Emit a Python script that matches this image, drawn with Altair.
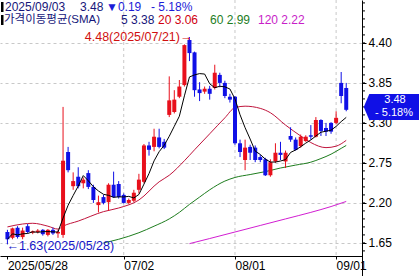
import altair as alt
import pandas as pd

# ---- candle data (index 0 = 2025/05/28 ... 67 = 2025/09/03) ----
opens = [1.80,1.72,1.86,1.73,1.88,1.79,1.80,1.83,1.76,1.83,1.78,1.76,2.90,2.43,2.56,2.47,2.61,2.42,2.17,2.28,
         2.21,2.45,2.46,2.31,2.20,2.23,2.38,2.49,2.99,2.97,3.10,3.04,3.41,3.45,3.66,3.82,4.44,4.27,3.76,3.73,
         3.77,3.78,3.96,3.85,3.66,3.66,3.02,2.79,2.97,2.96,2.83,2.80,2.58,2.77,2.89,2.77,3.12,3.07,2.98,3.05,
         3.13,3.11,3.34,3.23,3.30,3.30,3.85,3.78]
highs = [1.83,1.86,1.88,1.86,1.91,1.82,1.84,1.84,1.84,1.86,1.83,3.52,2.97,2.62,2.69,2.55,2.65,2.45,2.30,2.31,
         2.47,2.63,2.50,2.33,2.26,2.38,2.60,3.01,3.04,3.22,3.22,3.08,3.94,3.75,3.89,4.38,4.48,4.28,3.86,3.80,
         3.81,4.10,3.99,3.88,3.70,3.67,3.07,3.07,3.00,2.99,2.86,2.82,2.80,3.02,3.04,2.92,3.24,3.10,3.14,3.13,
         3.27,3.38,3.35,3.30,3.31,3.46,4.00,3.85]
lows = [1.63,1.70,1.71,1.70,1.78,1.77,1.78,1.75,1.74,1.76,1.72,1.72,2.62,2.38,2.40,2.40,2.39,2.20,2.07,2.18,
        2.09,2.27,2.26,2.19,2.18,2.21,2.33,2.47,2.85,2.91,2.95,2.94,3.38,3.43,3.64,3.80,4.15,3.66,3.60,3.70,
        3.62,3.76,3.79,3.64,3.58,3.00,2.83,2.65,2.79,2.76,2.76,2.57,2.56,2.75,2.79,2.68,3.04,2.92,2.96,3.04,
        3.07,3.10,3.12,3.12,3.15,3.28,3.57,3.46]
closes = [1.70,1.85,1.73,1.82,1.80,1.81,1.82,1.77,1.83,1.78,1.80,2.78,2.65,2.50,2.43,2.52,2.42,2.24,2.21,2.20,
          2.45,2.28,2.28,2.20,2.24,2.34,2.52,2.99,2.93,3.11,2.97,2.96,3.61,3.62,3.80,4.37,4.26,3.75,3.71,3.77,
          3.70,3.99,3.85,3.67,3.62,3.02,2.90,2.96,2.89,2.79,2.79,2.58,2.76,2.89,2.86,2.89,3.07,2.93,3.11,3.11,
          3.11,3.34,3.19,3.18,3.18,3.37,3.67,3.48]

# ---- moving averages ----
ma20_idx = [0,3,5,8,10,11,14,19,22,26,30,32,35,37,40,43,45,47,50,52,55,58,60,63,65,67]
ma20_val = [1.87,1.91,1.92,1.88,1.84,1.88,1.95,2.08,2.13,2.24,2.49,2.58,2.78,2.93,3.15,3.37,3.51,3.53,3.50,3.44,
            3.27,3.12,3.03,2.96,2.98,3.06]
ma60_idx = [19,22,26,29,32,34,36,38,40,43,45,48,51,54,57,60,62,64,66,67]
ma60_val = [1.65,1.70,1.79,1.88,1.98,2.07,2.18,2.28,2.38,2.50,2.55,2.59,2.63,2.68,2.72,2.76,2.81,2.87,2.95,2.99]
ma120_idx = [36,40,45,50,55,60,64,67]
ma120_val = [1.64,1.71,1.80,1.89,1.98,2.07,2.15,2.22]

# ---- axis labels ----
x_tick_idx = [0, 23, 45, 65]
x_tick_lab = ["2025/05/28", "07/02", "08/01", "09/01"]
x_grid_idx = [23, 45, 65]
y_ticks = [1.65, 2.20, 2.75, 3.30, 3.85, 4.40]
y_minor = [round(1.54 + 0.11 * k, 2) for k in range(32)]

RED = "#e8101c"
BLUE = "#1010e6"
FONT = "Liberation Sans, Noto Sans CJK KR"

df = pd.DataFrame({"i": list(range(len(closes))), "open": opens, "high": highs,
                   "low": lows, "close": closes})
ma20 = pd.DataFrame({"i": ma20_idx, "v": ma20_val})
ma60 = pd.DataFrame({"i": ma60_idx, "v": ma60_val})
ma120 = pd.DataFrame({"i": ma120_idx, "v": ma120_val})

xscale = alt.Scale(domain=[-0.48, 69.13], nice=False, zero=False)
yscale = alt.Scale(domain=[1.47, 4.99], nice=False, zero=False)

lab_expr = " : ".join(f"datum.value == {v} ? '{t}'" for v, t in zip(x_tick_idx, x_tick_lab)) + " : ''"
x_axis = alt.Axis(values=x_tick_idx, labelExpr=lab_expr, grid=False, title=None,
                  domainColor="#000000", tickColor="#000000", tickSize=3, labelPadding=1,
                  labelAlign="left", labelBaseline="top", labelFontSize=12, labelFont=FONT,
                  labelColor="#000000", labelFlush=False, labelOverlap=False, labelBound=False)
y_axis = alt.Axis(orient="right", values=y_ticks, format=".2f", title=None, grid=True,
                  gridColor="#c8c8c8", gridDash=[3, 3], domainColor="#000000", tickColor="#000000",
                  tickSize=4, labelPadding=2, labelFontSize=12, labelFont=FONT, labelColor="#000000")


def X(f="i"):
    return alt.X(f + ":Q", scale=xscale, axis=x_axis)


def Y(f):
    return alt.Y(f + ":Q", scale=yscale, axis=y_axis)


color = alt.Color("dir:N", scale=alt.Scale(domain=["up", "down"], range=[RED, BLUE]), legend=None)
base = alt.Chart(df).transform_calculate(dir="datum.close >= datum.open ? 'up' : 'down'")

vgrid = alt.Chart(pd.DataFrame({"i": x_grid_idx})).mark_rule(
    color="#c8c8c8", strokeDash=[3, 3], strokeWidth=1).encode(x=X())

ma120_line = alt.Chart(ma120).mark_line(color="#d21ed2", strokeWidth=1, interpolate="monotone").encode(x=X(), y=Y("v"))
ma60_line = alt.Chart(ma60).mark_line(color="#1e7d1e", strokeWidth=1, interpolate="monotone").encode(x=X(), y=Y("v"))
ma20_line = alt.Chart(ma20).mark_line(color="#c0143c", strokeWidth=1, interpolate="monotone").encode(x=X(), y=Y("v"))

wick = base.mark_rule(strokeWidth=1).encode(x=X(), y=Y("low"), y2="high:Q", color=color)
body = base.mark_bar(size=4).encode(x=X(), y=Y("open"), y2="close:Q", color=color)

ma5_line = alt.Chart(df).transform_window(
    ma5="mean(close)", frame=[-4, 0], sort=[alt.SortField("i")]
).mark_line(color="#000000", strokeWidth=1).encode(x=X(), y=Y("ma5"))

minor_ticks = alt.Chart(pd.DataFrame({"v": y_minor})).mark_rule(color="#000000", strokeWidth=1).encode(
    x=alt.value(362), x2=alt.value(365), y=Y("v"))
bottom_rule = alt.Chart(pd.DataFrame({"a": [0]})).mark_rule(color="#000000", strokeWidth=1).encode(
    x=alt.value(362.5), y=alt.value(256), y2=alt.value(276))

# peak / low annotations
peak = alt.Chart(pd.DataFrame({"i": [36], "v": [4.48]})).mark_text(
    align="right", baseline="middle", dx=3, dy=0, fontSize=12.5, font=FONT, color="#d01010",
    text="4.48(2025/07/21)→").encode(x=X(), y=Y("v"))
low = alt.Chart(pd.DataFrame({"i": [0], "v": [1.63]})).mark_text(
    align="left", baseline="middle", dx=-1, dy=2, fontSize=12.5, font=FONT, color="#1515c8",
    text="←1.63(2025/05/28)").encode(x=X(), y=Y("v"))

# price badge
badge = alt.Chart(pd.DataFrame({"a": [0]})).mark_point(
    shape="M -1 0 L -0.8 -0.47 L 1 -0.47 L 1 0.47 L -0.8 0.47 Z", filled=True, opacity=1,
    color="#1010e6", strokeWidth=0, size=3080).encode(x=alt.value(391.5), y=alt.value(107))


def txt(s, x, y, col, size=11.5, align="left", font=FONT):
    return alt.Chart(pd.DataFrame({"a": [0]})).mark_text(
        text=s, align=align, baseline="middle", fontSize=size, font=font, color=col
    ).encode(x=alt.value(x), y=alt.value(y))


def bar_marker(y0, y1):
    return alt.Chart(pd.DataFrame({"a": [0]})).mark_rect(color="#000000").encode(
        x=alt.value(1), x2=alt.value(3.5), y=alt.value(y0), y2=alt.value(y1))


NAVY = "#16167a"
header = [
    bar_marker(2, 12), bar_marker(15, 25),
    txt("2025/09/03", 5, 7, NAVY, 12),
    txt("3.48", 80, 7, NAVY, 12),
    txt("▼0.19", 106, 7, "#1c1cd8", 12),
    txt("- 5.18%", 151, 7, "#1c1cd8", 12),
    txt("가격이동평균(SMA)", 4, 20, NAVY, 11.5),
    txt("5 3.38", 121, 20, NAVY, 12),
    txt("20 3.06", 158, 20, "#d00010", 12),
    txt("60 2.99", 210, 20, "#1e7d1e", 12),
    txt("120 2.22", 258, 20, "#c81ec8", 12),
    txt("3.48", 395, 100, "#ffffff", 11, "center"),
    txt("- 5.18%", 394, 112.5, "#ffffff", 11, "center"),
]

chart = alt.layer(
    vgrid, ma120_line, ma60_line, ma20_line, wick, body, ma5_line, minor_ticks, bottom_rule,
    peak, low, badge, *header
).properties(
    width=362, height=256,
    padding={"left": 0, "top": 0, "right": 57, "bottom": 20},
    autosize=alt.AutoSizeParams(type="none"),
    background="#ffffff",
).configure_view(strokeWidth=0)

chart.save("out.html", embed_options={"renderer": "svg", "actions": False})
